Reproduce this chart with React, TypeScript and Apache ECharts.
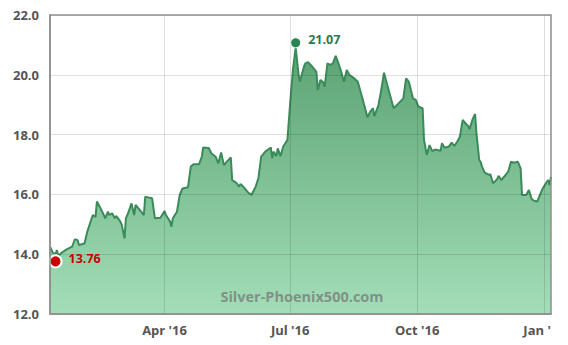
import React, { useEffect, useRef } from "react";
import * as echarts from "echarts";

const dates: string[] = [
  "2016-01-09", "2016-01-11", "2016-01-13", "2016-01-14", "2016-01-15", "2016-01-17", "2016-01-21", "2016-01-25", "2016-01-27", "2016-01-29",
  "2016-01-30", "2016-02-03", "2016-02-05", "2016-02-07", "2016-02-09", "2016-02-11", "2016-02-12", "2016-02-14", "2016-02-17", "2016-02-18",
  "2016-02-20", "2016-02-21", "2016-02-23", "2016-02-25", "2016-02-26", "2016-02-29", "2016-03-01", "2016-03-03", "2016-03-04", "2016-03-06",
  "2016-03-08", "2016-03-09", "2016-03-10", "2016-03-11", "2016-03-14", "2016-03-17", "2016-03-18", "2016-03-20", "2016-03-23", "2016-03-25",
  "2016-03-29", "2016-04-01", "2016-04-02", "2016-04-05", "2016-04-06", "2016-04-07", "2016-04-10", "2016-04-12", "2016-04-14", "2016-04-18",
  "2016-04-20", "2016-04-22", "2016-04-26", "2016-04-28", "2016-04-29", "2016-05-03", "2016-05-05", "2016-05-08", "2016-05-10", "2016-05-12",
  "2016-05-14", "2016-05-16", "2016-05-19", "2016-05-20", "2016-05-23", "2016-05-25", "2016-05-26", "2016-05-28", "2016-05-31", "2016-06-03",
  "2016-06-06", "2016-06-08", "2016-06-10", "2016-06-13", "2016-06-17", "2016-06-18", "2016-06-19", "2016-06-21", "2016-06-22", "2016-06-24",
  "2016-06-26", "2016-06-29", "2016-07-01", "2016-07-03", "2016-07-05", "2016-07-07", "2016-07-08", "2016-07-11", "2016-07-12", "2016-07-14",
  "2016-07-17", "2016-07-20", "2016-07-21", "2016-07-23", "2016-07-25", "2016-07-26", "2016-07-28", "2016-07-30", "2016-08-01", "2016-08-03",
  "2016-08-05", "2016-08-07", "2016-08-09", "2016-08-11", "2016-08-13", "2016-08-16", "2016-08-19", "2016-08-21", "2016-08-24", "2016-08-26",
  "2016-08-28", "2016-08-30", "2016-08-31", "2016-09-03", "2016-09-05", "2016-09-07", "2016-09-09", "2016-09-11", "2016-09-14", "2016-09-17",
  "2016-09-21", "2016-09-23", "2016-09-25", "2016-09-28", "2016-09-30", "2016-10-02", "2016-10-05", "2016-10-06", "2016-10-08", "2016-10-10",
  "2016-10-12", "2016-10-14", "2016-10-18", "2016-10-19", "2016-10-21", "2016-10-24", "2016-10-26", "2016-10-28", "2016-10-30", "2016-11-01",
  "2016-11-03", "2016-11-05", "2016-11-07", "2016-11-08", "2016-11-10", "2016-11-12", "2016-11-13", "2016-11-15", "2016-11-16", "2016-11-17",
  "2016-11-19", "2016-11-22", "2016-11-23", "2016-11-25", "2016-11-28", "2016-11-29", "2016-12-01", "2016-12-03", "2016-12-06", "2016-12-08",
  "2016-12-10", "2016-12-13", "2016-12-15", "2016-12-16", "2016-12-19", "2016-12-21", "2016-12-23", "2016-12-25", "2016-12-27", "2016-12-29",
  "2016-12-31", "2017-01-03", "2017-01-04", "2017-01-05", "2017-01-06",
];

const prices: number[] = [
  14.25, 14.05, 14.0, 14.14, 13.94, 14.03, 14.16, 14.25, 14.5, 14.47,
  14.31, 14.36, 14.75, 15.03, 15.31, 15.25, 15.76, 15.59, 15.31, 15.2,
  15.42, 15.31, 15.37, 15.2, 15.28, 15.09, 14.98, 14.53, 15.2, 15.42,
  15.7, 15.5, 15.31, 15.65, 15.48, 15.31, 15.92, 15.9, 15.87, 15.2,
  15.22, 15.44, 15.31, 15.09, 14.92, 15.2, 15.42, 15.98, 16.2, 16.24,
  16.93, 17.01, 17.01, 17.26, 17.57, 17.55, 17.37, 17.26, 17.04, 17.4,
  16.98, 17.09, 17.24, 16.48, 16.39, 16.26, 16.35, 16.26, 16.09, 15.98,
  16.26, 16.54, 17.26, 17.43, 17.57, 17.21, 17.43, 17.28, 17.54, 17.28,
  17.6, 17.82, 19.05, 20.16, 20.92, 20.05, 19.77, 20.27, 20.38, 20.42,
  20.27, 20.1, 19.49, 19.83, 19.74, 19.6, 20.38, 20.33, 20.38, 20.63,
  20.38, 20.1, 19.77, 20.16, 19.99, 19.9, 19.77, 19.44, 18.93, 18.58,
  18.77, 18.88, 18.62, 18.99, 19.49, 20.07, 19.72, 19.38, 18.88, 19.02,
  19.21, 19.88, 19.77, 19.21, 19.16, 18.93, 18.88, 17.82, 17.32, 17.65,
  17.45, 17.5, 17.46, 17.71, 17.56, 17.6, 17.73, 17.62, 17.76, 17.93,
  18.49, 18.38, 18.29, 18.18, 18.49, 18.69, 18.04, 17.15, 17.09, 16.93,
  16.73, 16.65, 16.68, 16.37, 16.51, 16.62, 16.48, 16.59, 16.76, 17.09,
  17.06, 17.09, 16.87, 15.98, 15.98, 16.15, 15.84, 15.78, 15.76, 15.98,
  16.2, 16.42, 16.48, 16.31, 16.59,
];

const lowPoint = { date: "2016-01-13", value: 13.76 };
const highPoint = { date: "2016-07-05", value: 21.07 };

const xRange = ["2016-01-09", "2017-01-06"];
const xTickDates = ["2016-04-01", "2016-07-01", "2016-10-01", "2017-01-01"];
const xTickLabels = ["Apr '16", "Jul '16", "Oct '16", "Jan '"];
const yRange = [12, 22];
const yStep = 2;
const watermark = "Silver-Phoenix500.com";

const ts = (d: string) => new Date(d + "T00:00:00").getTime();

export default function App() {
  const ref = useRef<HTMLDivElement>(null);
  useEffect(() => {
    if (!ref.current) return;
    const chart = echarts.init(ref.current, undefined, { renderer: "svg" });
    const tickTs = xTickDates.map(ts);
    const font = '"Open Sans", "DejaVu Sans", sans-serif';
    const gridColor = "rgba(0,0,0,0.12)";
    chart.setOption({
      animation: false,
      grid: {
        left: 50,
        right: 17,
        top: 15,
        bottom: 31,
        show: true,
        borderColor: "#8f8f8f",
        borderWidth: 1.5,
        backgroundColor: "transparent",
        z: 10,
      },
      xAxis: {
        type: "value",
        z: 3,
        min: ts(xRange[0]),
        max: ts(xRange[1]),
        axisLine: { show: true, lineStyle: { color: "#8f8f8f", width: 1.5 } },
        axisTick: { show: false, customValues: tickTs },
        splitLine: { show: true, lineStyle: { color: gridColor, width: 1 } },
        axisLabel: {
          customValues: tickTs,
          margin: 9,
          color: "#555",
          fontFamily: font,
          fontWeight: "bold",
          fontSize: 13,
          hideOverlap: false,
          showMinLabel: true,
          showMaxLabel: true,
          formatter: (v: number) => {
            const i = tickTs.indexOf(v);
            const t = i >= 0 ? xTickLabels[i] : "";
            return i === xTickLabels.length - 1 ? "{c|" + t + "}" : t;
          },
          rich: {
            c: {
              color: "#555",
              fontFamily: font,
              fontWeight: "bold",
              fontSize: 13,
              padding: [0, 14, 0, 0],
            },
          },
        },
      },
      yAxis: {
        type: "value",
        z: 3,
        min: yRange[0],
        max: yRange[1],
        interval: yStep,
        axisLine: { show: true, lineStyle: { color: "#8f8f8f", width: 1.5 } },
        axisTick: { show: false },
        splitLine: { show: true, lineStyle: { color: gridColor, width: 1 } },
        axisLabel: {
          margin: 11,
          color: "#555",
          fontFamily: font,
          fontWeight: "bold",
          fontSize: 13,
          formatter: (v: number) => v.toFixed(1),
        },
      },
      graphic: [
        {
          type: "text",
          x: 302,
          y: 296,
          z: 100,
          style: {
            text: watermark,
            fill: "rgba(120,120,120,0.75)",
            font: 'bold 14.5px "Open Sans", "DejaVu Sans", sans-serif',
            textAlign: "center",
            textVerticalAlign: "middle",
          },
        },
      ],
      series: [
        {
          type: "line",
          data: dates.map((d, i) => [ts(d), prices[i]]),
          showSymbol: false,
          symbol: "none",
          lineStyle: { color: "#3b8a5a", width: 2 },
          areaStyle: {
            opacity: 1,
            color: new echarts.graphic.LinearGradient(0, 0, 0, 1, [
              { offset: 0, color: "rgba(73,153,99,0.9)" },
              { offset: 1, color: "rgba(153,218,176,0.9)" },
            ]),
          },
          z: 2,
        },
        {
          type: "scatter",
          data: [[ts(lowPoint.date), lowPoint.value]],
          symbolSize: 12,
          itemStyle: { color: "#cc0000", borderColor: "#ffffff", borderWidth: 2, opacity: 1 },
          label: {
            show: true,
            position: "right",
            distance: 6,
            offset: [0, -3],
            color: "#cc0000",
            fontFamily: font,
            fontWeight: "bold",
            fontSize: 12.5,
            formatter: () => lowPoint.value.toFixed(2),
          },
          z: 5,
        },
        {
          type: "scatter",
          data: [[ts(highPoint.date), highPoint.value]],
          symbolSize: 10,
          itemStyle: { color: "#2a8452", borderColor: "#ffffff", borderWidth: 1, opacity: 1 },
          label: {
            show: true,
            position: "right",
            distance: 7,
            offset: [0, -3],
            color: "#2a7a4c",
            fontFamily: font,
            fontWeight: "bold",
            fontSize: 12.5,
            formatter: () => highPoint.value.toFixed(2),
          },
          z: 5,
        },
      ],
    });
    return () => chart.dispose();
  }, []);
  return (
    <div
      ref={ref}
      style={{ position: "absolute", left: 0, top: 0, width: 568, height: 345, background: "#fff" }}
    />
  );
}
